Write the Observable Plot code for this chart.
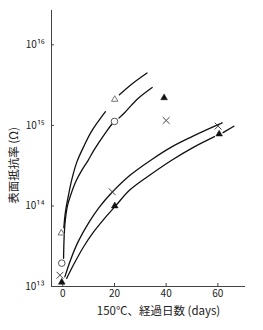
<!DOCTYPE html>
<html>
<head>
<meta charset="utf-8">
<script src="https://cdn.jsdelivr.net/npm/d3@7"></script>
<script src="https://cdn.jsdelivr.net/npm/@observablehq/plot@0.6"></script>
<style>
  html, body { margin: 0; padding: 0; background: #fff; }
  #chart { width: 263px; height: 330px; }
</style>
</head>
<body>
<div id="chart"></div>
<script>
// ---- Axis / tick data ----
const xTicks = [0, 20, 40, 60];
const yTicks = [1e13, 1e14, 1e15, 1e16];
const yTickLabels = ["10¹³", "10¹⁴", "10¹⁵", "10¹⁶"];
const xLabel = "150℃、経過日数 (days)";
const yLabel = "表面抵抗率 (Ω)";

// ---- Measured points (day, resistivity Ω) ----
const openTriangle = [[-0.6, 4.6e13], [20.1, 2.1e15]];
const openCircle   = [[-0.4, 1.95e13], [20.0, 1.12e15]];
const crossMark    = [[-1.1, 1.38e13], [19.1, 1.5e14], [40.0, 1.15e15], [60.1, 9.8e14]];
const filledTri    = [[-0.4, 1.13e13], [20.1, 1.0e14], [39.2, 2.2e15], [60.5, 7.8e14]];

// ---- Drawn curves (day, log10 Ω), split where broken ----
const curveA1 = [[0.4,13.73],[1,13.92],[2,14.1],[3.5,14.33],[5.5,14.55],[8,14.73],[11,14.92],[16.5,15.17]];
const curveA2 = [[21.9,15.38],[27,15.52],[32.6,15.65]];
const curveB1 = [[0.3,13.35],[0.5,13.6],[0.9,13.8],[1.8,14.0],[3,14.13],[5,14.3],[7.5,14.45],[9.7,14.56],[12,14.69],[14,14.79],[17,14.93],[19.1,15.02]];
const curveB2 = [[21.7,15.09],[24,15.16],[29,15.33],[34.6,15.47]];
const curveC  = [[0.8,13.12],[3,13.33],[6,13.56],[10,13.79],[14,13.98],[19.1,14.17],[26,14.38],[34.6,14.58],[42,14.73],[50,14.86],[56,14.95],[61.7,15.03]];
const curveD1 = [[1.5,13.1],[4,13.26],[8,13.49],[12,13.68],[16,13.84],[20.4,14.0],[26,14.2],[34,14.39],[42.3,14.57],[50.7,14.73],[58.7,14.86]];
const curveD2 = [[62,14.91],[66.2,14.99]];

const segments = {A1: curveA1, A2: curveA2, B1: curveB1, B2: curveB2, C: curveC, D1: curveD1, D2: curveD2};
const curveRows = Object.entries(segments).flatMap(([id, pts]) =>
  pts.map(([d, lg]) => ({seg: id, day: d, r: Math.pow(10, lg)})));

const toRows = arr => arr.map(([d, r]) => ({day: d, r}));
const yTickRows = yTicks.map((v, i) => ({v, label: yTickLabels[i]}));

const font = "'Noto Sans CJK JP', 'Noto Sans', sans-serif";
const axisColor = "#444";
const xMin = -4.37;

const chart = Plot.plot({
  width: 263,
  height: 330,
  marginLeft: 51,
  marginRight: 18,
  marginTop: 10,
  marginBottom: 44,
  style: {fontFamily: font, fontSize: "10px", color: "#222", background: "#fff"},
  x: {domain: [xMin, 70.7]},
  y: {type: "log", domain: [1e13, Math.pow(10, 16.426)]},
  marks: [
    Plot.ruleX([xMin], {stroke: axisColor, strokeWidth: 1}),
    Plot.ruleY([1e13], {stroke: axisColor, strokeWidth: 1}),
    Plot.axisX({ticks: xTicks, tickSize: -3, tickFormat: () => "", stroke: axisColor, label: null}),
    Plot.axisX({ticks: xTicks, tickSize: 0, tickPadding: 3, tickFormat: d => String(d), label: null, fill: "#222", fontSize: 10}),
    Plot.axisY({ticks: yTicks, tickSize: -3, tickFormat: () => "", stroke: axisColor, label: null}),
    Plot.text(yTickRows, {x: () => xMin, y: "v", text: "label", textAnchor: "end", dx: -7, fontSize: 10, fill: "#222"}),
    Plot.line(curveRows, {x: "day", y: "r", z: "seg", curve: "catmull-rom", stroke: "#111", strokeWidth: 1.3}),
    Plot.dot(toRows(openTriangle), {x: "day", y: "r", symbol: "triangle", r: 2.4, stroke: "#666", strokeWidth: 0.9, fill: "white"}),
    Plot.dot(toRows(openCircle), {x: "day", y: "r", symbol: "circle", r: 3.3, stroke: "#555", strokeWidth: 1, fill: "white"}),
    Plot.dot(toRows(crossMark), {x: "day", y: "r", symbol: "times", r: 3.2, stroke: "#444", strokeWidth: 1}),
    Plot.dot(toRows(filledTri), {x: "day", y: "r", symbol: "triangle", r: 2.5, fill: "#111", stroke: "#111", strokeWidth: 0.5}),
    Plot.text([xLabel], {frameAnchor: "bottom", textAnchor: "middle", lineAnchor: "middle", dx: 10, dy: 25, fontSize: 11.5, fill: "#222"}),
    Plot.text([yLabel], {frameAnchor: "left", textAnchor: "middle", lineAnchor: "middle", rotate: -90, dx: -37, dy: 17, fontSize: 11.5, fill: "#222"})
  ]
});
document.getElementById("chart").appendChild(chart);
</script>
</body>
</html>
